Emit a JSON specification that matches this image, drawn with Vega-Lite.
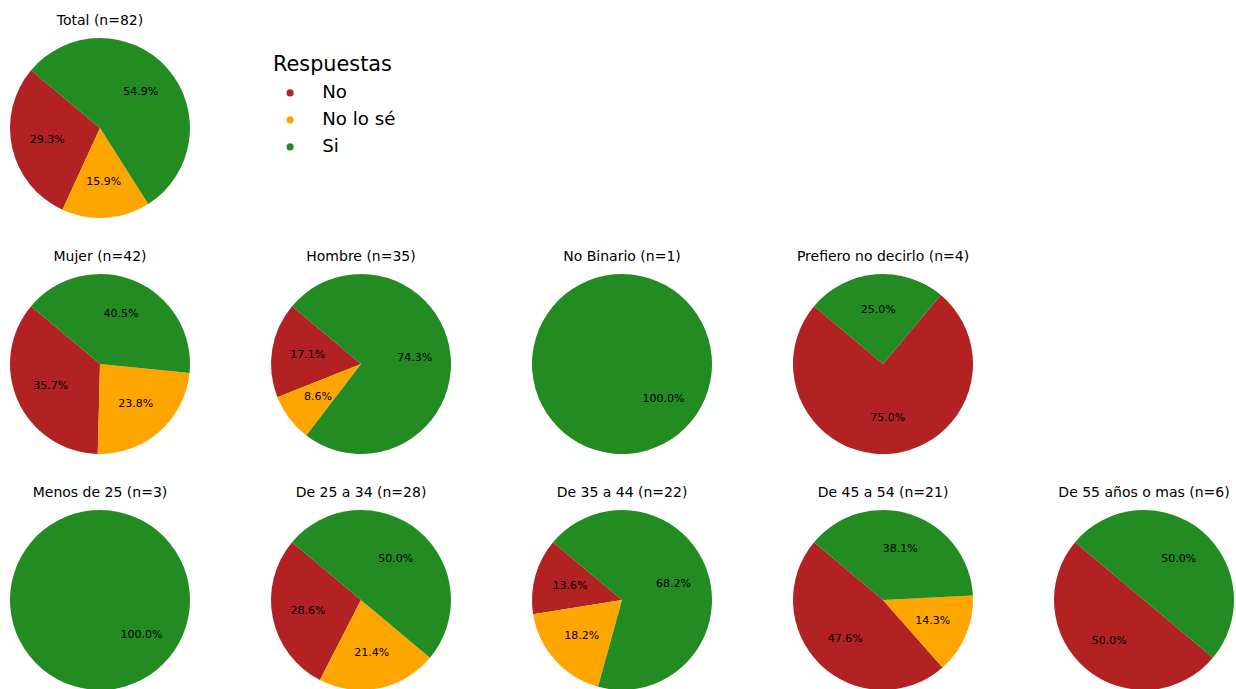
{
  "$schema": "https://vega.github.io/schema/vega-lite/v6.json",
  "padding": {"left": 10, "top": 14, "right": 0, "bottom": 0},
  "background": "white",
  "config": {
    "font": "DejaVu Sans",
    "view": {"stroke": null},
    "title": {"fontSize": 14, "fontWeight": "normal", "color": "black", "offset": 10},
    "concat": {"spacing": 81}
  },
  "datasets": {
    "d": [
      {"group": "Total", "answer": "No", "count": 24, "label": "29.3%"},
      {"group": "Total", "answer": "No lo sé", "count": 13, "label": "15.9%"},
      {"group": "Total", "answer": "Si", "count": 45, "label": "54.9%"},
      {"group": "Mujer", "answer": "No", "count": 15, "label": "35.7%"},
      {"group": "Mujer", "answer": "No lo sé", "count": 10, "label": "23.8%"},
      {"group": "Mujer", "answer": "Si", "count": 17, "label": "40.5%"},
      {"group": "Hombre", "answer": "No", "count": 6, "label": "17.1%"},
      {"group": "Hombre", "answer": "No lo sé", "count": 3, "label": "8.6%"},
      {"group": "Hombre", "answer": "Si", "count": 26, "label": "74.3%"},
      {"group": "No Binario", "answer": "Si", "count": 1, "label": "100.0%"},
      {"group": "Prefiero", "answer": "No", "count": 3, "label": "75.0%"},
      {"group": "Prefiero", "answer": "Si", "count": 1, "label": "25.0%"},
      {"group": "Menos25", "answer": "Si", "count": 3, "label": "100.0%"},
      {"group": "25a34", "answer": "No", "count": 8, "label": "28.6%"},
      {"group": "25a34", "answer": "No lo sé", "count": 6, "label": "21.4%"},
      {"group": "25a34", "answer": "Si", "count": 14, "label": "50.0%"},
      {"group": "35a44", "answer": "No", "count": 3, "label": "13.6%"},
      {"group": "35a44", "answer": "No lo sé", "count": 4, "label": "18.2%"},
      {"group": "35a44", "answer": "Si", "count": 15, "label": "68.2%"},
      {"group": "45a54", "answer": "No", "count": 10, "label": "47.6%"},
      {"group": "45a54", "answer": "No lo sé", "count": 3, "label": "14.3%"},
      {"group": "45a54", "answer": "Si", "count": 8, "label": "38.1%"},
      {"group": "55mas", "answer": "No", "count": 3, "label": "50.0%"},
      {"group": "55mas", "answer": "Si", "count": 3, "label": "50.0%"}
    ]
  },
  "vconcat": [
    {"hconcat": [
      {
        "title": "Total (n=82)", "width": 180, "height": 180,
        "data": {"name": "d"},
        "transform": [{"filter": "datum.group === 'Total'"}],
        "encoding": {"theta": {"field": "count", "type": "quantitative", "stack": "normalize", "scale": {"range": [-0.87266, -7.15585]}}, "order": {"field": "answer", "type": "ordinal", "sort": "ascending"}},
        "layer": [
          {"mark": {"type": "arc", "outerRadius": 90},
           "encoding": {"color": {"field": "answer", "type": "nominal",
             "scale": {"domain": ["No", "No lo sé", "Si"], "range": ["#b22222", "#ffa500", "#228b22"]},
             "legend": {"orient": "none", "legendX": 263, "legendY": 17, "title": "Respuestas",
               "titleFontSize": 20.8, "titleFontWeight": "normal", "titleColor": "black",
               "labelFontSize": 18.2, "labelColor": "black", "symbolType": "circle", "symbolSize": 50,
               "symbolStrokeWidth": 0, "symbolOffset": 8, "labelOffset": 23, "rowPadding": 8, "titlePadding": 8}}}},
          {"mark": {"type": "text", "radius": 54, "fontSize": 11, "color": "black"},
           "encoding": {"detail": {"field": "answer", "type": "nominal"}, "text": {"field": "label", "type": "nominal"}}}
        ]
      }
    ]},
    {"hconcat": [
      {
        "title": "Mujer (n=42)", "width": 180, "height": 180,
        "data": {"name": "d"},
        "transform": [{"filter": "datum.group === 'Mujer'"}],
        "encoding": {"theta": {"field": "count", "type": "quantitative", "stack": "normalize", "scale": {"range": [-0.87266, -7.15585]}}, "order": {"field": "answer", "type": "ordinal", "sort": "ascending"}},
        "layer": [
          {"mark": {"type": "arc", "outerRadius": 90},
           "encoding": {"color": {"field": "answer", "type": "nominal", "scale": {"domain": ["No", "No lo sé", "Si"], "range": ["#b22222", "#ffa500", "#228b22"]}, "legend": null}}},
          {"mark": {"type": "text", "radius": 54, "fontSize": 11, "color": "black"},
           "encoding": {"detail": {"field": "answer", "type": "nominal"}, "text": {"field": "label", "type": "nominal"}}}
        ]
      },
      {
        "title": "Hombre (n=35)", "width": 180, "height": 180,
        "data": {"name": "d"},
        "transform": [{"filter": "datum.group === 'Hombre'"}],
        "encoding": {"theta": {"field": "count", "type": "quantitative", "stack": "normalize", "scale": {"range": [-0.87266, -7.15585]}}, "order": {"field": "answer", "type": "ordinal", "sort": "ascending"}},
        "layer": [
          {"mark": {"type": "arc", "outerRadius": 90},
           "encoding": {"color": {"field": "answer", "type": "nominal", "scale": {"domain": ["No", "No lo sé", "Si"], "range": ["#b22222", "#ffa500", "#228b22"]}, "legend": null}}},
          {"mark": {"type": "text", "radius": 54, "fontSize": 11, "color": "black"},
           "encoding": {"detail": {"field": "answer", "type": "nominal"}, "text": {"field": "label", "type": "nominal"}}}
        ]
      },
      {
        "title": "No Binario (n=1)", "width": 180, "height": 180,
        "data": {"name": "d"},
        "transform": [{"filter": "datum.group === 'No Binario'"}],
        "encoding": {"theta": {"field": "count", "type": "quantitative", "stack": "normalize", "scale": {"range": [-0.87266, -7.15585]}}, "order": {"field": "answer", "type": "ordinal", "sort": "ascending"}},
        "layer": [
          {"mark": {"type": "arc", "outerRadius": 90},
           "encoding": {"color": {"field": "answer", "type": "nominal", "scale": {"domain": ["No", "No lo sé", "Si"], "range": ["#b22222", "#ffa500", "#228b22"]}, "legend": null}}},
          {"mark": {"type": "text", "radius": 54, "fontSize": 11, "color": "black"},
           "encoding": {"detail": {"field": "answer", "type": "nominal"}, "text": {"field": "label", "type": "nominal"}}}
        ]
      },
      {
        "title": "Prefiero no decirlo (n=4)", "width": 180, "height": 180,
        "data": {"name": "d"},
        "transform": [{"filter": "datum.group === 'Prefiero'"}],
        "encoding": {"theta": {"field": "count", "type": "quantitative", "stack": "normalize", "scale": {"range": [-0.87266, -7.15585]}}, "order": {"field": "answer", "type": "ordinal", "sort": "ascending"}},
        "layer": [
          {"mark": {"type": "arc", "outerRadius": 90},
           "encoding": {"color": {"field": "answer", "type": "nominal", "scale": {"domain": ["No", "No lo sé", "Si"], "range": ["#b22222", "#ffa500", "#228b22"]}, "legend": null}}},
          {"mark": {"type": "text", "radius": 54, "fontSize": 11, "color": "black"},
           "encoding": {"detail": {"field": "answer", "type": "nominal"}, "text": {"field": "label", "type": "nominal"}}}
        ]
      }
    ]},
    {"hconcat": [
      {
        "title": "Menos de 25 (n=3)", "width": 180, "height": 180,
        "data": {"name": "d"},
        "transform": [{"filter": "datum.group === 'Menos25'"}],
        "encoding": {"theta": {"field": "count", "type": "quantitative", "stack": "normalize", "scale": {"range": [-0.87266, -7.15585]}}, "order": {"field": "answer", "type": "ordinal", "sort": "ascending"}},
        "layer": [
          {"mark": {"type": "arc", "outerRadius": 90},
           "encoding": {"color": {"field": "answer", "type": "nominal", "scale": {"domain": ["No", "No lo sé", "Si"], "range": ["#b22222", "#ffa500", "#228b22"]}, "legend": null}}},
          {"mark": {"type": "text", "radius": 54, "fontSize": 11, "color": "black"},
           "encoding": {"detail": {"field": "answer", "type": "nominal"}, "text": {"field": "label", "type": "nominal"}}}
        ]
      },
      {
        "title": "De 25 a 34 (n=28)", "width": 180, "height": 180,
        "data": {"name": "d"},
        "transform": [{"filter": "datum.group === '25a34'"}],
        "encoding": {"theta": {"field": "count", "type": "quantitative", "stack": "normalize", "scale": {"range": [-0.87266, -7.15585]}}, "order": {"field": "answer", "type": "ordinal", "sort": "ascending"}},
        "layer": [
          {"mark": {"type": "arc", "outerRadius": 90},
           "encoding": {"color": {"field": "answer", "type": "nominal", "scale": {"domain": ["No", "No lo sé", "Si"], "range": ["#b22222", "#ffa500", "#228b22"]}, "legend": null}}},
          {"mark": {"type": "text", "radius": 54, "fontSize": 11, "color": "black"},
           "encoding": {"detail": {"field": "answer", "type": "nominal"}, "text": {"field": "label", "type": "nominal"}}}
        ]
      },
      {
        "title": "De 35 a 44 (n=22)", "width": 180, "height": 180,
        "data": {"name": "d"},
        "transform": [{"filter": "datum.group === '35a44'"}],
        "encoding": {"theta": {"field": "count", "type": "quantitative", "stack": "normalize", "scale": {"range": [-0.87266, -7.15585]}}, "order": {"field": "answer", "type": "ordinal", "sort": "ascending"}},
        "layer": [
          {"mark": {"type": "arc", "outerRadius": 90},
           "encoding": {"color": {"field": "answer", "type": "nominal", "scale": {"domain": ["No", "No lo sé", "Si"], "range": ["#b22222", "#ffa500", "#228b22"]}, "legend": null}}},
          {"mark": {"type": "text", "radius": 54, "fontSize": 11, "color": "black"},
           "encoding": {"detail": {"field": "answer", "type": "nominal"}, "text": {"field": "label", "type": "nominal"}}}
        ]
      },
      {
        "title": "De 45 a 54 (n=21)", "width": 180, "height": 180,
        "data": {"name": "d"},
        "transform": [{"filter": "datum.group === '45a54'"}],
        "encoding": {"theta": {"field": "count", "type": "quantitative", "stack": "normalize", "scale": {"range": [-0.87266, -7.15585]}}, "order": {"field": "answer", "type": "ordinal", "sort": "ascending"}},
        "layer": [
          {"mark": {"type": "arc", "outerRadius": 90},
           "encoding": {"color": {"field": "answer", "type": "nominal", "scale": {"domain": ["No", "No lo sé", "Si"], "range": ["#b22222", "#ffa500", "#228b22"]}, "legend": null}}},
          {"mark": {"type": "text", "radius": 54, "fontSize": 11, "color": "black"},
           "encoding": {"detail": {"field": "answer", "type": "nominal"}, "text": {"field": "label", "type": "nominal"}}}
        ]
      },
      {
        "title": "De 55 años o mas (n=6)", "width": 180, "height": 180,
        "data": {"name": "d"},
        "transform": [{"filter": "datum.group === '55mas'"}],
        "encoding": {"theta": {"field": "count", "type": "quantitative", "stack": "normalize", "scale": {"range": [-0.87266, -7.15585]}}, "order": {"field": "answer", "type": "ordinal", "sort": "ascending"}},
        "layer": [
          {"mark": {"type": "arc", "outerRadius": 90},
           "encoding": {"color": {"field": "answer", "type": "nominal", "scale": {"domain": ["No", "No lo sé", "Si"], "range": ["#b22222", "#ffa500", "#228b22"]}, "legend": null}}},
          {"mark": {"type": "text", "radius": 54, "fontSize": 11, "color": "black"},
           "encoding": {"detail": {"field": "answer", "type": "nominal"}, "text": {"field": "label", "type": "nominal"}}}
        ]
      }
    ]}
  ],
  "spacing": 32,
  "resolve": {"scale": {"color": "independent", "theta": "independent"}, "legend": {"color": "independent"}}
}
